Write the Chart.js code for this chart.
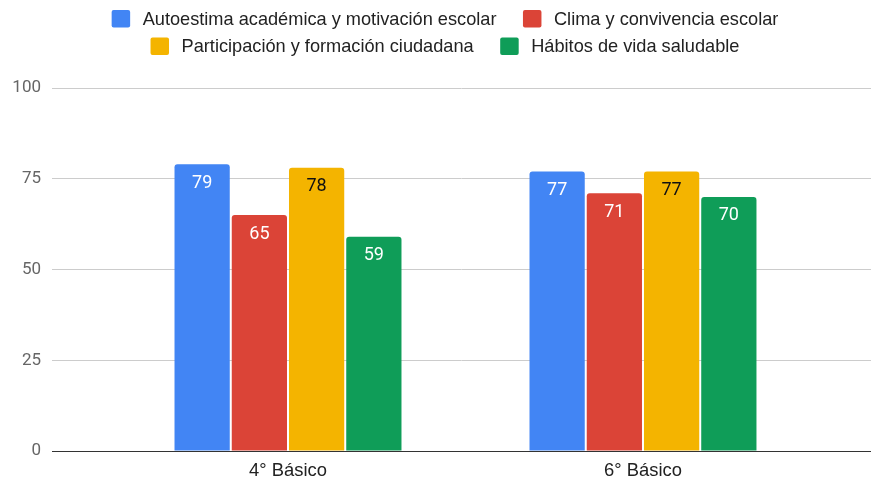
<!DOCTYPE html>
<html>
<head>
<meta charset="utf-8">
<script src="https://cdn.jsdelivr.net/npm/chart.js@4"></script>
<style>
html,body{margin:0;padding:0;background:#fff;}
#wrap{width:871px;height:482px;position:relative;}
</style>
</head>
<body>
<div id="wrap"><canvas id="c"></canvas></div>
<script>
const categories = ['4° Básico', '6° Básico'];
const seriesNames = [
  'Autoestima académica y motivación escolar',
  'Clima y convivencia escolar',
  'Participación y formación ciudadana',
  'Hábitos de vida saludable'
];
const autoestima = [79, 77];
const clima = [65, 71];
const participacion = [78, 77];
const habitos = [59, 70];
const yTicks = [0, 25, 50, 75, 100];

const colors = ['#4285F4', '#DB4437', '#F4B400', '#0F9D58'];
const labelColors = ['#ffffff', '#ffffff', '#111111', '#ffffff'];
const allSeries = [autoestima, clima, participacion, habitos];

const sans = "'Liberation Sans', Arial, sans-serif";

const dataLabelPlugin = {
  id: 'dataLabels',
  afterDatasetsDraw(chart) {
    const ctx = chart.ctx;
    ctx.save();
    ctx.font = "18px Roboto, 'Liberation Sans', sans-serif";
    ctx.textAlign = 'center';
    ctx.textBaseline = 'middle';
    chart.data.datasets.forEach((ds, di) => {
      const meta = chart.getDatasetMeta(di);
      meta.data.forEach((bar, i) => {
        ctx.fillStyle = labelColors[di];
        ctx.fillText(String(ds.data[i].y), bar.x, bar.y + 19);
      });
    });
    ctx.restore();
  }
};

// Legend drawn from the datasets (labels + colours), laid out like the reference.
const customLegend = {
  id: 'customLegend',
  afterDraw(chart) {
    const ctx = chart.ctx;
    const box = 18.5, gapText = 12.5, gapItem = 26.5, rowH = 27.5, firstRowY = 18.7;
    const centerX = chart.width / 2 + 9.5;
    const maxW = chart.width - 40;
    ctx.save();
    ctx.font = '18.2px ' + sans;
    ctx.textBaseline = 'middle';
    const items = chart.data.datasets.map(ds => ({
      text: ds.label, color: ds.backgroundColor,
      w: box + gapText + ctx.measureText(ds.label).width
    }));
    const rows = [[]];
    let cur = 0;
    items.forEach(it => {
      const row = rows[rows.length - 1];
      if (row.length && cur + gapItem + it.w > maxW) { rows.push([it]); cur = it.w; }
      else { cur += (row.length ? gapItem : 0) + it.w; row.push(it); }
    });
    rows.forEach((row, r) => {
      const total = row.reduce((s, it, k) => s + it.w + (k ? gapItem : 0), 0);
      let x = centerX - total / 2;
      const y = firstRowY + r * rowH;
      row.forEach(it => {
        ctx.fillStyle = it.color;
        ctx.beginPath();
        if (ctx.roundRect) ctx.roundRect(x, y - 8.7, box, 17.4, 2); else ctx.rect(x, y - 8.7, box, 17.4);
        ctx.fill();
        ctx.fillStyle = '#222222';
        ctx.textAlign = 'left';
        ctx.fillText(it.text, x + box + gapText, y + 1);
        x += it.w + gapItem;
      });
    });
    ctx.restore();
  }
};

new Chart(document.getElementById('c'), {
  type: 'bar',
  data: {
    datasets: allSeries.map((vals, k) => ({
      label: seriesNames[k],
      data: vals.map((v, i) => ({ x: i, y: v })),
      backgroundColor: colors[k],
      borderRadius: { topLeft: 3, topRight: 3 },
      borderSkipped: 'start',
      categoryPercentage: 0.645,
      barPercentage: 0.965
    }))
  },
  options: {
    responsive: true,
    maintainAspectRatio: false,
    animation: false,
    layout: { padding: { left: 0, right: 0, top: 88, bottom: 0 } },
    plugins: {
      tooltip: { enabled: false },
      legend: { display: false }
    },
    scales: {
      x: {
        type: 'linear',
        offset: false,
        min: -0.6648,
        max: 1.6423,
        grid: { display: false, drawTicks: false },
        border: { display: true, color: '#333333', width: 1 },
        afterBuildTicks(scale) {
          scale.ticks = categories.map((c, i) => ({ value: i }));
        },
        ticks: {
          font: { family: sans, size: 18.4 },
          color: '#222222',
          padding: 9,
          autoSkip: false,
          maxRotation: 0,
          callback: (v) => categories[v]
        },
        afterFit(scale) { scale.height = 31; }
      },
      y: {
        min: 0,
        max: 100,
        afterBuildTicks(scale) {
          scale.ticks = yTicks.map(v => ({ value: v }));
        },
        grid: {
          color: (c) => c.tick && c.tick.value === 0 ? '#333333' : '#cccccc',
          lineWidth: 1,
          drawTicks: false
        },
        border: { display: false },
        ticks: {
          font: { family: "Roboto, 'Liberation Sans', sans-serif", size: 17 },
          color: '#666666',
          padding: 11
        },
        afterFit(scale) { scale.width = 52; }
      }
    }
  },
  plugins: [dataLabelPlugin, customLegend]
});
</script>
</body>
</html>
